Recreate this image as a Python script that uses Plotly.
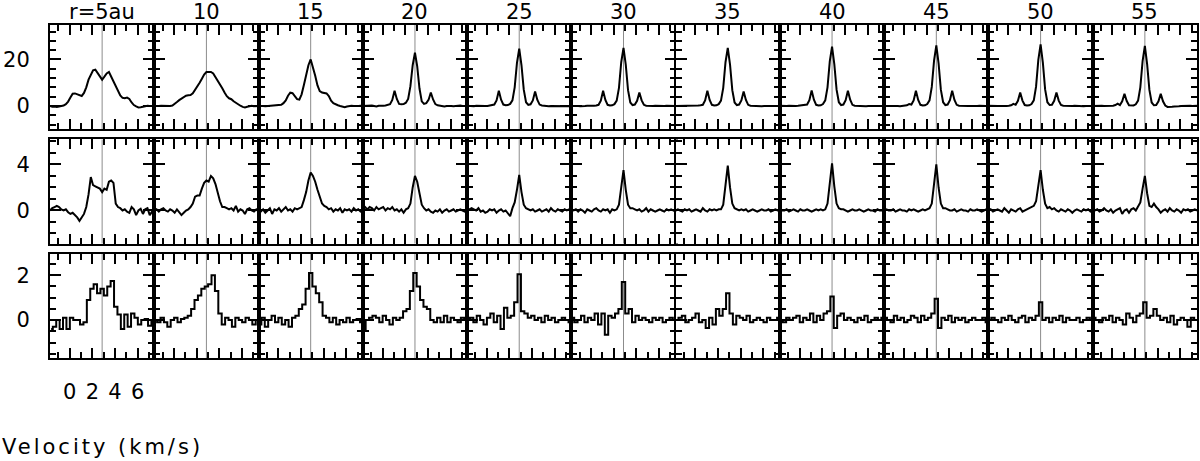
import plotly.graph_objects as go
from plotly.subplots import make_subplots

# radii of the annuli (columns) and the systemic velocity (grey line)
radii = [5, 10, 15, 20, 25, 30, 35, 40, 45, 50, 55]
col_titles = ["r=5au", "10", "15", "20", "25", "30", "35", "40", "45", "50", "55"]
v_sys = 2.86  # km/s

# channel offsets from v_sys (km/s)
dv_fine = [-4.6, -4.4, -4.2, -4.0, -3.8, -3.6, -3.4, -3.2, -3.0, -2.8, -2.6, -2.4,
           -2.2, -2.0, -1.8, -1.6, -1.4, -1.2, -1.0, -0.8, -0.6, -0.4, -0.2, 0.0,
           0.2, 0.4, 0.6, 0.8, 1.0, 1.2, 1.4, 1.6, 1.8, 2.0, 2.2, 2.4, 2.6, 2.8,
           3.0, 3.2, 3.4, 3.6, 3.8, 4.0, 4.2, 4.4, 4.6]
dv_coarse = [-4.5, -4.2, -3.9, -3.6, -3.3, -3.0, -2.7, -2.4, -2.1, -1.8, -1.5, -1.2,
             -0.9, -0.6, -0.3, 0.0, 0.3, 0.6, 0.9, 1.2, 1.5, 1.8, 2.1, 2.4, 2.7,
             3.0, 3.3, 3.6, 3.9, 4.2, 4.5]

# ---- top row (bright line with satellites) ----
top_05 = [0.0, -0.3, -0.2, -0.4, -0.2, 0.0, 0.2, 0.8, 1.9, 3.6, 5.3, 5.4, 5.0, 4.4, 4.3,
          5.6, 8.0, 11.3, 13.6, 15.3, 15.6, 14.0, 12.3, 11.3, 12.6, 14.0, 14.6, 12.6, 10.3,
          8.3, 6.5, 4.5, 3.5, 3.3, 3.6, 3.0, 1.5, 0.4, -0.2, -0.6, -0.5, -0.2, 0.0, 0.1,
          0.0, -0.1, 0.0]
top_10 = [0.0, -0.1, 0.0, 0.1, 0.0, 0.0, -0.1, 0.0, 0.2, 0.8, 1.7, 2.5, 3.2, 4.0, 4.4,
          4.6, 4.7, 5.4, 6.8, 8.2, 10.0, 11.7, 13.5, 14.6, 14.7, 14.6, 14.0, 12.5, 10.9,
          9.2, 7.6, 5.8, 4.2, 3.3, 2.9, 2.0, 1.3, 0.6, 0.1, -0.4, -0.6, -0.3, 0.0, 0.1,
          -0.1, 0.0, 0.0]
top_15 = [0.0, 0.1, 0.0, -0.1, 0.0, 0.1, 0.0, 0.0, 0.1, 0.2, 0.5, 1.2, 2.4, 4.4, 5.7,
          5.5, 4.0, 2.9, 2.7, 5.0, 9.0, 13.5, 17.5, 20.0, 17.0, 13.0, 8.8, 6.4, 5.8, 5.7,
          5.4, 4.3, 2.3, 1.2, 0.6, 0.3, 0.0, -0.4, -0.5, -0.2, 0.0, 0.1, 0.0, -0.1, 0.0,
          0.1, 0.0]
top_20 = [0.0, 0.1, -0.1, 0.0, 0.2, 0.0, -0.2, 0.1, 0.0, 0.1, 0.2, 0.4, 0.8, 2.6, 6.5,
          3.0, 0.9, 0.7, 0.8, 1.4, 3.0, 8.5, 17.5, 22.9, 17.0, 7.5, 2.0, 0.9, 1.2, 2.6,
          5.8, 2.8, 0.8, 0.3, 0.1, 0.0, -0.2, 0.0, 0.1, 0.0, -0.1, 0.1, 0.0, 0.2, 0.0,
          -0.1, 0.0]
top_25 = [0.1, 0.0, 0.0, -0.1, 0.1, 0.0, 0.1, -0.1, 0.0, 0.0, 0.2, 0.3, 0.6, 2.4, 6.5,
          2.7, 0.6, 0.3, 0.4, 0.9, 2.4, 8.0, 18.5, 24.6, 17.5, 7.0, 1.6, 0.5, 0.7, 2.4,
          6.2, 2.6, 0.6, 0.2, 0.0, 0.1, -0.1, 0.0, 0.0, 0.1, 0.0, -0.1, 0.0, 0.1, 0.0,
          0.0, -0.1]
top_30 = [0.0, 0.1, 0.0, 0.0, -0.1, 0.1, 0.0, 0.1, 0.0, -0.1, 0.1, 0.2, 0.5, 2.3, 6.5,
          2.6, 0.5, 0.2, 0.3, 0.8, 2.3, 7.8, 18.8, 25.0, 17.8, 6.8, 1.5, 0.4, 0.6, 2.2,
          5.8, 2.4, 0.5, 0.1, 0.0, -0.1, 0.0, 0.1, 0.0, 0.0, -0.1, 0.0, 0.1, 0.0, 0.0,
          0.1, 0.0]
top_35 = [0.0, 0.0, 0.1, 0.0, 0.0, -0.1, 0.0, 0.1, 0.0, 0.1, 0.2, 0.3, 0.5, 2.4, 6.5,
          2.6, 0.5, 0.2, 0.3, 0.8, 2.3, 7.8, 18.8, 25.0, 17.8, 6.8, 1.5, 0.4, 0.6, 2.4,
          6.2, 2.6, 0.5, 0.1, 0.0, 0.0, 0.1, 0.0, -0.1, 0.0, 0.0, 0.1, 0.0, 0.0, -0.1,
          0.0, 0.0]
top_40 = [0.1, 0.0, 0.0, 0.0, 0.1, 0.0, -0.1, 0.0, 0.1, 0.2, 0.3, 0.5, 0.6, 2.5, 6.7,
          2.7, 0.5, 0.2, 0.3, 0.8, 2.4, 8.0, 19.2, 25.5, 18.0, 7.0, 1.6, 0.4, 0.6, 2.5,
          6.5, 2.7, 0.5, 0.1, 0.0, 0.1, 0.0, 0.0, -0.1, 0.0, 0.1, 0.0, 0.0, 0.0, 0.1,
          0.0, 0.0]
top_45 = [0.0, 0.1, 0.0, 0.0, 0.0, 0.1, 0.0, -0.1, 0.0, 0.1, 0.3, 0.8, 0.6, 2.4, 6.5,
          2.6, 0.5, 0.2, 0.3, 0.8, 2.4, 8.2, 19.5, 26.0, 18.3, 7.0, 1.6, 0.4, 0.6, 2.5,
          6.5, 2.6, 0.5, 0.1, 0.0, 0.0, 0.1, 0.0, 0.0, -0.1, 0.0, 0.0, 0.1, 0.0, 0.0,
          0.0, 0.1]
top_50 = [0.1, 0.0, 0.0, 0.1, 0.0, 0.0, -0.1, 0.0, 0.0, 0.1, 0.3, 0.9, 0.5, 2.2, 5.8,
          2.3, 0.4, 0.2, 0.3, 0.8, 2.4, 8.3, 19.8, 26.5, 18.6, 7.1, 1.6, 0.4, 0.5, 2.2,
          5.8, 2.3, 0.4, 0.1, 0.0, 0.0, -0.1, 0.0, 0.1, 0.0, 0.0, 0.0, -0.1, 0.0, 0.1,
          0.0, 0.0]
top_55 = [0.0, 0.1, 0.0, 0.0, 0.1, 0.0, 0.0, 0.1, 0.0, 0.1, 0.4, 1.0, 0.4, 2.0, 5.2,
          2.1, 0.3, 0.1, 0.2, 0.7, 2.3, 8.0, 19.3, 25.8, 18.0, 6.9, 1.5, 0.3, 0.4, 2.0,
          5.2, 2.0, 0.2, -0.4, -0.5, -0.3, -0.2, 0.0, -0.1, 0.0, 0.1, 0.0, 0.0, 0.1, 0.0,
          0.0, 0.1]

# ---- middle row ----
mid_05 = [0.0, 0.2, 0.3, 0.4, 0.3, 0.1, 0.0, 0.1, -0.15, -0.3, -0.2, -0.4, -0.6, -0.9,
          -0.6, -0.3, 0.3, 1.4, 2.9, 2.2, 2.1, 2.0, 1.9, 1.6, 1.9, 1.8, 2.5, 2.6, 2.4, 0.6,
          0.3, 0.2, 0.0, 0.1, -0.1, -0.2, 0.3, 0.1, -0.4, 0.0, 0.15, -0.3, 0.1, 0.2, -0.4,
          -0.1, 0.1]
mid_10 = [0.0, 0.1, -0.1, 0.1, 0.2, 0.0, -0.1, 0.1, 0.0, -0.2, 0.1, -0.2, -0.4, -0.2,
          0.0, 0.1, 0.3, 0.6, 1.2, 1.3, 1.3, 1.9, 2.4, 2.6, 2.5, 3.0, 2.8, 2.3, 1.5, 0.8,
          0.3, 0.3, 0.2, 0.1, 0.2, 0.0, 0.4, -0.1, 0.1, 0.0, -0.3, 0.1, 0.2, 0.0, -0.1,
          0.1, -0.1]
mid_15 = [0.0, -0.1, 0.1, -0.2, 0.0, 0.2, -0.3, 0.1, 0.0, 0.2, -0.1, 0.1, 0.3, 0.0, 0.1,
          -0.1, 0.2, 0.1, 0.2, 0.3, 0.9, 1.6, 2.6, 3.3, 3.0, 2.5, 1.8, 1.1, 0.6, 0.4, 0.3,
          0.1, 0.2, -0.1, 0.1, 0.0, 0.2, -0.2, 0.1, 0.0, 0.1, -0.1, 0.2, 0.0, 0.1, -0.1,
          0.0]
mid_20 = [0.2, 0.3, 0.1, 0.3, 0.2, 0.0, 0.3, 0.1, 0.2, 0.3, 0.0, 0.2, 0.1, 0.3, 0.0, 0.1,
          -0.1, 0.1, -0.2, 0.1, 0.2, 0.6, 2.0, 3.0, 2.5, 1.4, 0.5, 0.2, 0.0, 0.1, -0.1,
          -0.2, 0.0, -0.1, 0.1, -0.2, 0.0, 0.1, -0.1, 0.0, 0.1, -0.1, 0.0, 0.1, 0.0, -0.1,
          0.0]
mid_25 = [0.0, 0.1, 0.2, 0.1, 0.0, 0.2, -0.1, 0.0, -0.2, -0.1, 0.1, 0.0, 0.1, -0.2, 0.0,
          0.1, -0.1, 0.0, -0.3, -0.5, 0.2, 0.7, 1.8, 3.1, 1.6, 0.5, 0.2, 0.1, 0.0, 0.1,
          -0.1, 0.0, 0.1, -0.1, 0.0, 0.1, -0.1, 0.2, 0.0, -0.1, 0.1, 0.0, -0.1, 0.1, 0.0,
          0.1, 0.0]
mid_30 = [0.1, 0.0, 0.1, -0.1, 0.1, 0.0, -0.2, 0.1, 0.0, -0.1, 0.1, 0.2, 0.0, -0.1, 0.1,
          0.0, 0.1, -0.2, 0.1, 0.0, 0.1, 0.5, 2.0, 3.5, 1.8, 0.5, 0.2, 0.2, 0.1, 0.0, 0.1,
          -0.1, 0.0, 0.2, -0.1, 0.1, 0.0, -0.1, 0.0, 0.1, 0.0, -0.1, 0.1, 0.0, 0.1, 0.0,
          -0.1]
mid_35 = [0.0, 0.1, 0.0, -0.1, 0.1, 0.0, 0.1, -0.1, 0.0, 0.1, 0.0, -0.1, 0.2, 0.0, -0.1,
          0.1, 0.0, 0.1, 0.0, 0.1, 0.1, 0.5, 2.2, 3.9, 2.0, 0.6, 0.2, 0.1, 0.0, 0.1, 0.0,
          0.1, -0.1, 0.0, 0.1, 0.0, -0.1, 0.0, 0.1, 0.0, 0.0, 0.1, -0.1, 0.0, 0.1, 0.0,
          0.0]
mid_40 = [0.1, 0.0, 0.0, 0.1, -0.1, 0.0, 0.1, 0.0, -0.1, 0.1, 0.0, 0.0, 0.1, 0.0, -0.1,
          0.0, 0.1, 0.0, 0.1, 0.0, 0.1, 0.6, 2.3, 4.1, 2.1, 0.6, 0.2, 0.1, 0.1, 0.0, -0.1,
          0.0, 0.1, 0.0, 0.0, 0.1, 0.0, -0.1, 0.0, 0.1, 0.0, 0.0, -0.1, 0.1, 0.0, 0.0,
          0.1]
mid_45 = [0.0, 0.1, 0.0, 0.0, 0.1, -0.1, 0.0, 0.1, 0.0, 0.0, -0.1, 0.1, 0.0, 0.1, 0.0,
          -0.1, 0.0, 0.1, 0.0, 0.1, 0.2, 0.6, 2.3, 4.0, 2.0, 0.6, 0.2, 0.2, 0.1, 0.0, 0.0,
          0.1, -0.1, 0.0, 0.1, 0.0, 0.0, -0.1, 0.1, 0.0, 0.0, 0.1, 0.0, -0.1, 0.0, 0.1,
          0.0]
mid_50 = [0.0, 0.1, -0.1, 0.0, 0.1, 0.0, -0.1, 0.2, 0.0, -0.2, 0.1, 0.0, -0.1, 0.1, 0.2,
          -0.1, 0.0, 0.1, 0.2, 0.3, 0.4, 0.8, 2.1, 3.5, 1.8, 0.6, 0.2, 0.3, 0.1, 0.2, 0.0,
          -0.1, 0.1, 0.0, -0.1, 0.1, 0.0, -0.2, 0.0, 0.1, 0.0, -0.1, 0.1, 0.0, 0.1, -0.1,
          0.0]
mid_55 = [0.1, 0.0, 0.1, -0.1, 0.0, 0.2, 0.0, -0.1, 0.1, -0.2, 0.0, 0.1, 0.2, -0.3, 0.0,
          0.1, -0.2, 0.1, 0.2, 0.0, 0.3, 0.7, 1.9, 3.0, 1.5, 0.4, 0.3, 0.6, 0.3, 0.1, -0.2,
          0.0, 0.1, -0.1, 0.2, 0.0, -0.1, 0.1, 0.0, -0.2, 0.1, 0.0, 0.1, -0.1, 0.0, 0.1,
          0.0]

# ---- bottom row (coarser channels, histogram style) ----
bot_05 = [-0.4, -0.3, 0.0, -0.4, 0.1, -0.4, 0.1, 0.0, 0.0, -0.2, -0.1, 0.9, 1.4, 1.6, 1.2,
          1.4, 1.1, 1.5, 1.75, 0.6, 0.25, -0.4, 0.25, -0.3, 0.3, 0.1, -0.2, 0.0, 0.05,
          -0.25, 0.0]
bot_10 = [0.0, -0.1, 0.1, -0.1, -0.3, 0.0, 0.1, -0.1, 0.05, 0.1, 0.2, 0.5, 0.9, 1.1, 1.4,
          1.5, 1.6, 2.0, 1.3, 0.3, -0.2, 0.1, 0.0, -0.3, 0.1, 0.0, -0.1, 0.1, 0.0, -0.2,
          0.0]
bot_15 = [-0.2, 0.1, -0.3, 0.0, 0.2, -0.1, 0.1, -0.2, 0.0, -0.3, 0.1, 0.2, 0.5, 0.7, 1.4,
          2.1, 1.5, 1.2, 0.8, 0.2, 0.1, -0.1, 0.1, -0.2, 0.0, -0.1, 0.1, -0.1, 0.0, 0.05,
          -0.1]
bot_20 = [-0.4, 0.0, 0.1, 0.2, 0.1, -0.1, 0.2, 0.0, -0.2, 0.1, 0.0, 0.1, 0.4, 0.5, 1.3,
          2.1, 1.5, 0.9, 0.6, 0.5, 0.0, -0.1, 0.1, -0.1, 0.2, -0.1, 0.1, 0.0, -0.1, 0.1,
          0.0]
bot_25 = [0.0, 0.1, -0.1, 0.2, 0.0, -0.2, 0.1, 0.3, -0.1, 0.2, -0.4, 0.55, 0.1, 0.2, 0.8,
          2.05, 0.4, 0.3, 0.1, 0.2, 0.0, 0.1, -0.1, 0.2, 0.0, 0.1, -0.1, 0.0, 0.1, 0.0,
          -0.1]
bot_30 = [0.1, -0.1, 0.0, 0.2, -0.1, 0.1, 0.0, 0.3, -0.2, 0.3, -0.65, 0.2, 0.1, 0.3, 0.5,
          1.7, 0.3, 0.5, -0.1, 0.2, 0.0, 0.1, 0.0, -0.1, 0.1, 0.0, 0.1, -0.1, 0.0, 0.1,
          0.0]
bot_35 = [0.0, 0.1, 0.2, -0.1, 0.0, 0.1, 0.3, -0.1, 0.0, -0.35, 0.1, -0.2, 0.5, 0.2, 0.5,
          1.2, 0.3, -0.2, 0.2, 0.1, 0.0, 0.2, -0.1, 0.0, 0.1, 0.0, -0.1, 0.1, 0.0, 0.0,
          0.1]
bot_40 = [0.0, -0.1, 0.1, 0.0, 0.1, 0.2, -0.1, 0.1, 0.0, 0.3, -0.1, 0.2, 0.0, 0.3, 0.4,
          1.05, -0.35, 0.2, 0.3, 0.0, 0.1, 0.0, -0.1, 0.1, 0.0, 0.2, -0.1, 0.0, 0.1, 0.0,
          0.1]
bot_45 = [0.1, 0.0, -0.1, 0.2, 0.0, 0.1, -0.1, 0.0, 0.2, 0.1, -0.1, 0.2, 0.0, 0.1, 0.3,
          0.95, -0.35, 0.1, 0.0, 0.2, -0.1, 0.1, 0.0, 0.1, -0.1, 0.0, 0.1, 0.0, 0.0, 0.1,
          -0.1]
bot_50 = [0.0, 0.1, 0.0, -0.1, 0.1, 0.0, 0.2, 0.0, -0.1, 0.1, 0.2, -0.1, 0.1, 0.0, 0.2,
          0.8, 0.0, 0.1, -0.1, 0.1, 0.0, 0.2, -0.1, 0.1, 0.0, 0.0, 0.1, -0.1, 0.0, 0.1,
          0.0]
bot_55 = [0.1, 0.0, -0.1, 0.1, 0.0, 0.2, -0.1, 0.1, 0.0, -0.2, 0.3, 0.1, -0.1, 0.2, 0.3,
          0.8, 0.1, 0.2, 0.5, 0.2, 0.0, 0.1, -0.1, 0.2, -0.2, 0.0, 0.1, 0.0, -0.3, 0.1,
          0.0]

row_top = [top_05, top_10, top_15, top_20, top_25, top_30, top_35, top_40, top_45, top_50, top_55]
row_mid = [mid_05, mid_10, mid_15, mid_20, mid_25, mid_30, mid_35, mid_40, mid_45, mid_50, mid_55]
row_bot = [bot_05, bot_10, bot_15, bot_20, bot_25, bot_30, bot_35, bot_40, bot_45, bot_50, bot_55]

vel_fine = [v_sys + d for d in dv_fine]
vel_coarse = [v_sys + d for d in dv_coarse]

rows = [
    # spectra, velocities, line shape, y range, major dtick, minor dtick
    (row_top, vel_fine, "linear", [-9.9, 34.8], 20, 4),
    (row_mid, vel_fine, "linear", [-2.87, 6.17], 4, 1),
    (row_bot, vel_coarse, "hvh", [-1.69, 2.95], 2, 0.5),
]

FONT = "DejaVu Sans"
ncol = len(radii)

fig = make_subplots(rows=3, cols=ncol, horizontal_spacing=0, vertical_spacing=0.0315)

for ri, (spectra, vel, shape, yr, dt, mdt) in enumerate(rows, start=1):
    for ci, spec in enumerate(spectra, start=1):
        fig.add_trace(go.Scatter(x=vel, y=spec, mode="lines",
                                 line=dict(color="black", width=2, shape=shape),
                                 showlegend=False, hoverinfo="skip"),
                      row=ri, col=ci)
        fig.add_vline(x=v_sys, line_color="#8c8c8c", line_width=1, layer="below",
                      row=ri, col=ci)
        fig.update_xaxes(range=[v_sys - 4.6, v_sys + 4.6], automargin=False,
                         showline=True, linewidth=2, linecolor="black", mirror="allticks",
                         ticks="inside", tick0=0, dtick=2, ticklen=10, tickwidth=1.5,
                         tickcolor="black",
                         minor=dict(ticks="inside", dtick=1, tick0=0, ticklen=6,
                                    tickwidth=1.5, tickcolor="black"),
                         showgrid=False, zeroline=False,
                         showticklabels=(ri == 3 and ci == 1),
                         ticklabelstandoff=14,
                         tickfont=dict(family=FONT, size=21, color="black"),
                         row=ri, col=ci)
        fig.update_yaxes(range=yr, automargin=False,
                         showline=True, linewidth=2, linecolor="black", mirror="allticks",
                         ticks="inside", tick0=0, dtick=dt, ticklen=11, tickwidth=1.5,
                         tickcolor="black",
                         minor=dict(ticks="inside", dtick=mdt, tick0=0, ticklen=6,
                                    tickwidth=1.5, tickcolor="black"),
                         showgrid=False, zeroline=False,
                         showticklabels=(ci == 1),
                         ticklabelstandoff=14,
                         tickfont=dict(family=FONT, size=21, color="black"),
                         row=ri, col=ci)

# radius labels above the top row
for ci, txt in enumerate(col_titles):
    fig.add_annotation(text=txt, xref="paper", yref="paper",
                       x=(ci + 0.5) / ncol, y=1, xanchor="center", yanchor="bottom",
                       yshift=-1, showarrow=False,
                       font=dict(family=FONT, size=21, color="black"))

fig.add_annotation(text='<span style="letter-spacing:3px">Velocity (km/s)</span>',
                   xref="paper", yref="paper",
                   x=-50 / 1147, y=-0.267, xanchor="left", yanchor="middle",
                   showarrow=False, font=dict(family=FONT, size=21, color="black"))

fig.update_layout(width=1200, height=461,
                  margin=dict(l=50, r=3, t=25, b=103, autoexpand=False),
                  paper_bgcolor="white", plot_bgcolor="white",
                  font=dict(family=FONT, size=21, color="black"))

# drop the page's default body margin so the figure sits at the window corner
fig.write_html("out.html", config={"displayModeBar": False},
               post_script="document.body.style.margin = '0px';")
